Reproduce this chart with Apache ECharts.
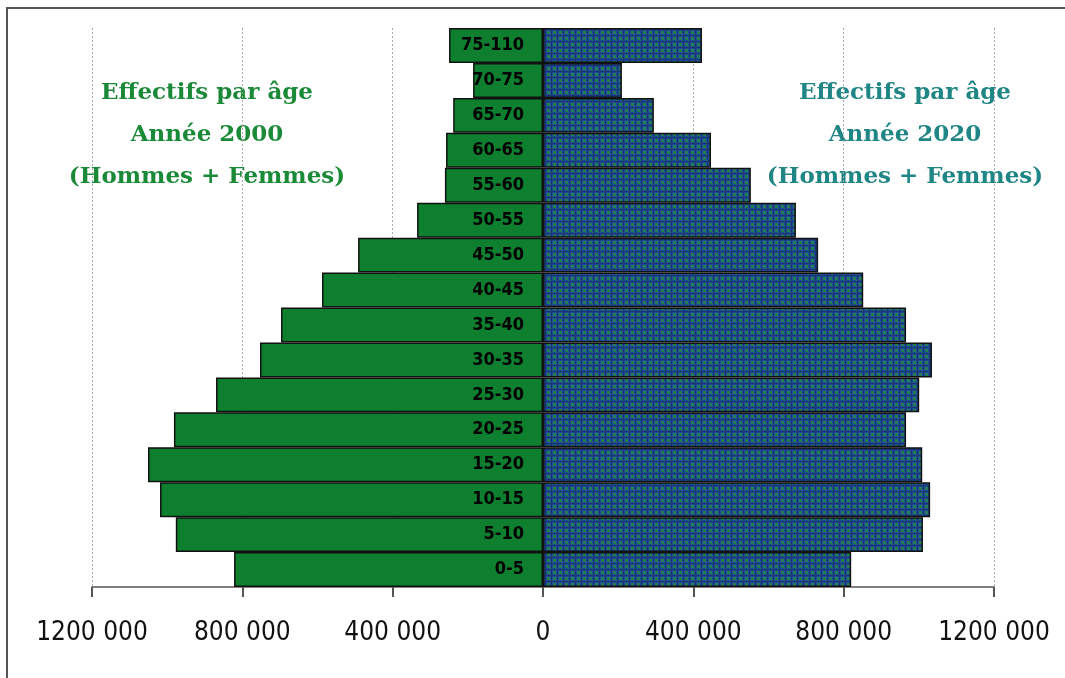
<!DOCTYPE html>
<html>
<head>
<meta charset="utf-8">
<script src="https://cdn.jsdelivr.net/npm/echarts@6/dist/echarts.min.js"></script>
<style>
  html, body { margin: 0; padding: 0; background: #fff; }
  #chart { width: 1065px; height: 678px; }
</style>
</head>
<body>
<div id="chart"></div>
<script>
// Age groups, bottom to top
const ageGroups = ['0-5', '5-10', '10-15', '15-20', '20-25', '25-30', '30-35', '35-40',
                   '40-45', '45-50', '50-55', '55-60', '60-65', '65-70', '70-75', '75-110'];
// Headcount per age group, year 2000 (drawn to the left)
const effectifs2000 = [822000, 977000, 1019000, 1051000, 982000, 870000, 753000, 697000,
                       588000, 492000, 335000, 261000, 258000, 239000, 186000, 250000];
// Headcount per age group, year 2020 (drawn to the right)
const effectifs2020 = [820000, 1011000, 1030000, 1009000, 966000, 1001000, 1035000, 966000,
                       852000, 732000, 673000, 553000, 447000, 295000, 210000, 423000];

// Blue fill with a fine green checker, like a hatched swatch
function makePattern() {
  const c = document.createElement('canvas');
  c.width = 6; c.height = 6;
  const g = c.getContext('2d');
  g.fillStyle = '#1f4a94';
  g.fillRect(0, 0, 6, 6);
  g.fillStyle = '#227d52';
  g.fillRect(1, 1, 3, 3);
  g.fillRect(4, 4, 1, 1);
  g.fillStyle = '#1a3478';
  g.fillRect(0, 5, 6, 1);
  g.fillRect(5, 0, 1, 6);
  return c;
}

// "1200 000", "800 000", ... "0"
function fmt(v) {
  const a = Math.abs(v);
  if (a === 0) return '0';
  return Math.floor(a / 1000) + ' 000';
}

const chart = echarts.init(document.getElementById('chart'), null, { renderer: 'canvas' });

const titleFont = "bold 23px 'DejaVu Serif', serif";
const narrow = "'DejaVu Sans Condensed', 'Liberation Sans Narrow', sans-serif";

chart.setOption({
  animation: false,
  backgroundColor: '#fff',
  grid: { left: 92, right: 71, top: 28, bottom: 91, containLabel: false },
  xAxis: {
    type: 'value',
    min: -1200000,
    max: 1200000,
    interval: 400000,
    axisLine: { show: true, onZero: false, lineStyle: { color: '#555', width: 1.5 } },
    axisTick: { show: true, length: 10, lineStyle: { color: '#555', width: 2 } },
    axisLabel: {
      formatter: fmt,
      margin: 33,
      color: '#111',
      fontSize: 26,
      fontFamily: narrow
    },
    splitLine: { show: true, lineStyle: { color: '#aaa', type: [2, 2], width: 1 } }
  },
  yAxis: {
    type: 'category',
    data: ageGroups,
    axisLine: { show: false },
    axisTick: { show: false },
    axisLabel: { show: false },
    splitLine: { show: false }
  },
  series: [
    {
      name: '2000',
      type: 'bar',
      data: effectifs2000.map(v => -v),
      barCategoryGap: 0,
      barGap: '-100%',
      itemStyle: { color: '#0e7f2e', borderColor: '#111', borderWidth: 1.5 },
      label: {
        show: true,
        position: 'insideRight',
        distance: 19,
        formatter: p => p.name,
        color: '#000',
        fontWeight: 'bold',
        fontSize: 18,
        fontFamily: narrow
      }
    },
    {
      name: '2020',
      type: 'bar',
      data: effectifs2020,
      barCategoryGap: 0,
      barGap: '-100%',
      itemStyle: {
        color: { image: makePattern(), repeat: 'repeat' },
        borderColor: '#111',
        borderWidth: 1.5
      }
    }
  ],
  graphic: [
    {
      type: 'rect',
      shape: { x: 7, y: 8, width: 1200, height: 800 },
      style: { fill: 'none', stroke: '#555', lineWidth: 2 },
      silent: true
    },
    {
      type: 'text',
      x: 207, y: 135,
      style: {
        text: 'Effectifs par âge\nAnnée 2000\n(Hommes + Femmes)',
        font: titleFont,
        fill: '#1b8a38',
        align: 'center',
        verticalAlign: 'middle',
        lineHeight: 42
      }
    },
    {
      type: 'text',
      x: 905, y: 135,
      style: {
        text: 'Effectifs par âge\nAnnée 2020\n(Hommes + Femmes)',
        font: titleFont,
        fill: '#1f8585',
        align: 'center',
        verticalAlign: 'middle',
        lineHeight: 42
      }
    }
  ]
});
</script>
</body>
</html>
